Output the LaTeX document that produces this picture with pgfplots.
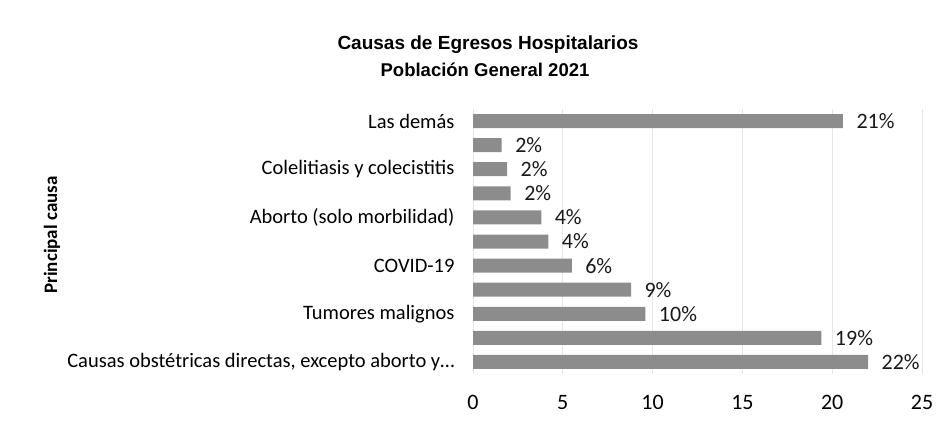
\documentclass[border=0pt]{standalone}
\usepackage{fontspec}
\setmainfont{Carlito}
\newfontfamily\titlefont{Liberation Sans}
\usepackage{pgfplots}
\pgfplotsset{compat=1.18}
\definecolor{barGray}{HTML}{8C8C8C}
\definecolor{gridGray}{HTML}{E6E6E6}
\begin{document}
\begin{tikzpicture}[x=1pt,y=1pt]
  \path[use as bounding box] (0,0) rectangle (952,421);

  % titles and y label
  \node[font=\titlefont\bfseries\fontsize{19}{22}\selectfont] at (488,376) {Causas de Egresos Hospitalarios};
  \node[font=\titlefont\bfseries\fontsize{18.5}{22}\selectfont] at (485,351) {Población General 2021};
  \node[font=\bfseries\fontsize{19}{22}\selectfont, rotate=90] at (52,186) {Principal causa};

  \begin{axis}[
      at={(473pt,47pt)}, anchor=south west,
      scale only axis, width=449pt, height=265pt,
      xbar, bar width=14pt,
      xmin=0, xmax=25, ymin=-0.5, ymax=10.5,
      xtick={0,5,10,15,20,25},
      ytick={0,2,4,6,8,10},
      yticklabels={{Causas obstétricas directas, excepto aborto y\dots},
                   {Tumores malignos}, {COVID-19}, {Aborto (solo morbilidad)},
                   {Colelitiasis y colecistitis}, {Las demás}},
      /pgf/number format/assume math mode=true,
      axis line style={draw=none},
      major tick length=0pt,
      xmajorgrids, grid style={gridGray, line width=0.8pt},
      xticklabel style={font=\fontsize{22}{26}\selectfont, yshift=-18pt},
      yticklabel style={font=\fontsize{20.5}{24}\selectfont, xshift=-15pt},
      nodes near coords,
      point meta=explicit symbolic,
      every node near coord/.append style={font=\fontsize{22}{26}\selectfont, anchor=west, xshift=10pt, text=black!90},
    ]
    \addplot[fill=barGray, draw=none] coordinates {
      (22.0,0) [22\%]
      (19.4,1) [19\%]
      (9.6,2)  [10\%]
      (8.8,3)  [9\%]
      (5.5,4)  [6\%]
      (4.2,5)  [4\%]
      (3.8,6)  [4\%]
      (2.1,7)  [2\%]
      (1.9,8)  [2\%]
      (1.6,9)  [2\%]
      (20.6,10) [21\%]
    };
  \end{axis}
\end{tikzpicture}
\end{document}
